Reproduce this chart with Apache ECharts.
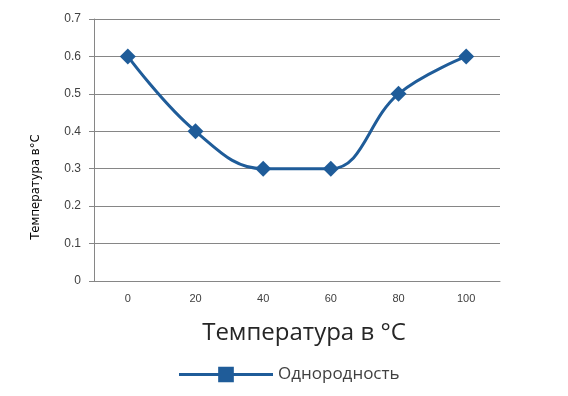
<!DOCTYPE html>
<html><head><meta charset="utf-8">
<script src="https://cdn.jsdelivr.net/npm/echarts@6/dist/echarts.min.js"></script>
<style>html,body{margin:0;padding:0;background:#fff}#c{width:568px;height:396px}</style>
</head><body><div id="c"></div>
<script>
const categories = ['0', '20', '40', '60', '80', '100'];
const values = [0.6, 0.4, 0.3, 0.3, 0.5, 0.6];
const seriesName = 'Однородность';
const xName = 'Температура в °С';
const yName = 'Температура в°С';
const color = '#1F5C99';
const chart = echarts.init(document.getElementById('c'), null, {renderer: 'canvas'});
chart.setOption({
  animation: false,
  backgroundColor: '#fff',
  grid: {left: 94, right: 68, top: 19, bottom: 115},
  xAxis: {
    type: 'category', data: categories, boundaryGap: true,
    axisLine: {lineStyle: {color: '#868686'}},
    axisTick: {show: false},
    axisLabel: {color: '#404040', fontSize: 11, fontFamily: 'Liberation Sans', margin: 12},
    name: xName, nameLocation: 'middle', nameGap: 40,
    nameTextStyle: {fontSize: 24, color: '#262626', fontFamily: 'Open Sans', padding: [0, 0, 0, 14]}
  },
  yAxis: {
    type: 'value', min: 0, max: 0.7, interval: 0.1,
    axisLine: {show: true, lineStyle: {color: '#868686'}},
    axisTick: {show: true, length: 5, lineStyle: {color: '#868686'}},
    splitLine: {lineStyle: {color: '#868686'}},
    axisLabel: {color: '#404040', fontSize: 12, fontFamily: 'Liberation Sans', margin: 13,
      formatter: v => String(Math.round(v*10)/10)}
  },
  graphic: [{
    type: 'text', x: 36, y: 187, rotation: Math.PI / 2,
    style: {text: yName, fontSize: 13, fontFamily: 'DejaVu Sans Condensed', fill: '#000',
      align: 'center', verticalAlign: 'middle'}
  }],
  legend: {
    left: 174, top: 361, itemWidth: 94, itemHeight: 16, itemGap: 8,
    icon: 'path://M0,6.5H40V9.5H0Z M40,0H56V16H40Z M56,6.5H96V9.5H56Z',
    textStyle: {fontSize: 17, color: '#404040', fontFamily: 'Open Sans'},
    data: [seriesName]
  },
  series: [{
    name: seriesName, type: 'line', data: values, smooth: 0.4,
    symbol: 'diamond', symbolSize: 16,
    lineStyle: {color: color, width: 3},
    itemStyle: {color: color}
  }]
});
</script></body></html>
